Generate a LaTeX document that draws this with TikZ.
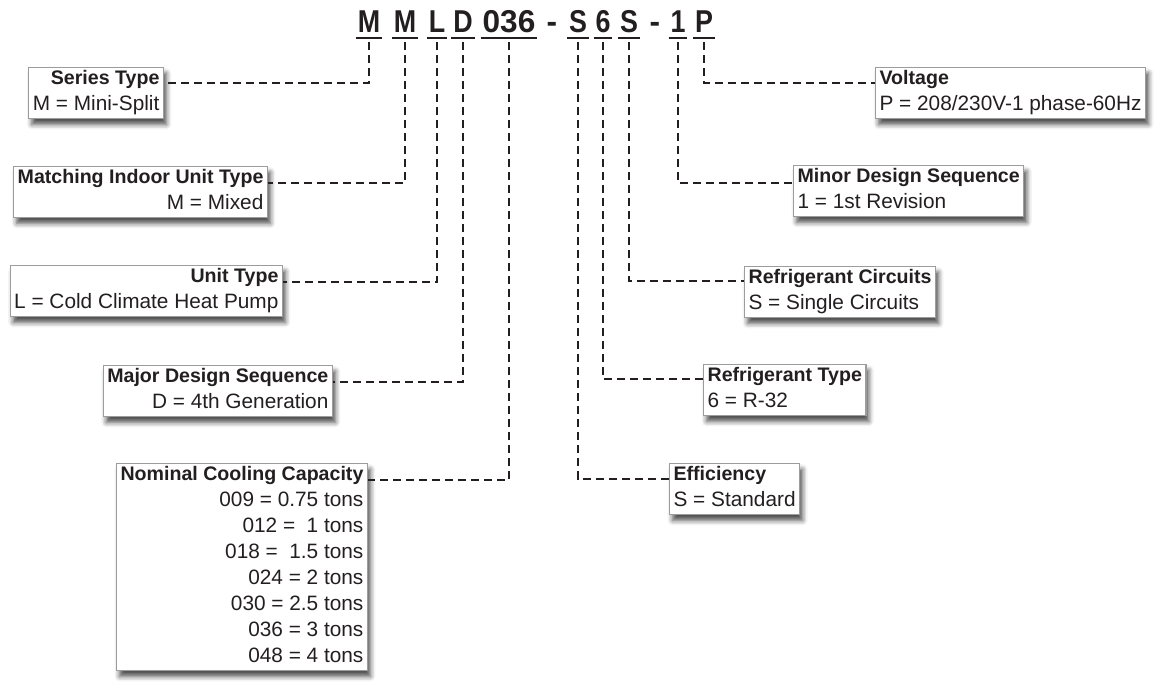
\documentclass[tikz,border=0pt]{standalone}
\usepackage{fontspec}
\usepackage{graphicx}
\setmainfont{Liberation Sans}
\usetikzlibrary{shadows.blur}

\definecolor{ink}{HTML}{231F20}
\definecolor{boxline}{HTML}{9C9C9C}
\newcommand{\hd}[1]{{\fontsize{9.8pt}{13pt}\selectfont\bfseries #1}}
\newcommand{\lnstrut}{\rule[-2.5pt]{0pt}{9pt}}
\newcommand{\cc}[1]{\scalebox{0.85}[1]{#1}}

\begin{document}
\begin{tikzpicture}[x=0.5pt,y=-0.5pt,
		codechar/.style={font=\fontsize{15.8pt}{16pt}\selectfont\bfseries,
			text=ink,inner xsep=0.8pt,inner ysep=3pt,text depth=0pt,anchor=base},
		uline/.style={draw=ink,line width=1pt},
		conn/.style={draw=ink,line width=1.15pt,dash pattern=on 4pt off 2.5pt},
		codebox/.style={draw=boxline,line width=0.6pt,fill=white,text=ink,
			inner xsep=2pt,inner ysep=1.5pt,
			font=\fontsize{10.4pt}{13pt}\selectfont,
			blur shadow={shadow xshift=1.5pt,shadow yshift=-2.8pt,
				shadow blur radius=2.5pt,shadow opacity=70}}]
	
	\useasboundingbox (0,0) rectangle (1157,681);
	
	% model number
	\node[codechar] (kM1) at (369,32) {\cc{M}};
	\node[codechar] (kM2) at (405,32) {\cc{M}};
	\node[codechar] (kL) at (437,32) {\cc{L}};
	\node[codechar] (kD) at (463,32) {\cc{D}};
	\node[codechar] (k036) at (509,32) {036};
	\node[codechar] (kd1) at (552,32) {-};
	\node[codechar] (kS1) at (578,32) {\cc{S}};
	\node[codechar] (k6) at (603,32) {\cc{6}};
	\node[codechar] (kS2) at (629,32) {\cc{S}};
	\node[codechar] (kd2) at (655,32) {-};
	\node[codechar] (k1) at (678,32) {\cc{1}};
	\node[codechar] (kP) at (704,32) {\cc{P}};
	\foreach \k in {kM1,kM2,kL,kD,k036,kS1,k6,kS2,k1,kP}
		\draw[uline] (\k.south west) -- (\k.south east);
	
	% left boxes
	\node[codebox,align=right,anchor=north east] (series) at (164,67)
		{\hd{Series Type}\lnstrut\\M = Mini-Split\lnstrut};
	\node[codebox,align=right,anchor=north east] (indoor) at (268,166)
		{\hd{Matching Indoor Unit Type}\lnstrut\\M = Mixed\lnstrut};
	\node[codebox,align=right,anchor=north east] (unit) at (283,265)
		{\hd{Unit Type}\lnstrut\\L = Cold Climate Heat Pump\lnstrut};
	\node[codebox,align=right,anchor=north east] (major) at (333,365)
		{\hd{Major Design Sequence}\lnstrut\\D = 4th Generation\lnstrut};
	\node[codebox,align=right,anchor=north east] (capacity) at (368,463)
		{\hd{Nominal Cooling Capacity}\lnstrut\\
		009 = 0.75 tons\\012 = \ 1 tons\\018 = \ 1.5 tons\\024 = 2 tons\\
		030 = 2.5 tons\\036 = 3 tons\\048 = 4 tons\lnstrut};
	
	% right boxes
	\node[codebox,align=left,anchor=north west] (voltage) at (875,67)
		{\hd{Voltage}\lnstrut\\P = 208/230V-1 phase-60Hz\lnstrut};
	\node[codebox,align=left,anchor=north west] (minor) at (793,165)
		{\hd{Minor Design Sequence}\lnstrut\\1 = 1st Revision\lnstrut};
	\node[codebox,align=left,anchor=north west] (circuits) at (744,266)
		{\hd{Refrigerant Circuits}\lnstrut\\S = Single Circuits\lnstrut};
	\node[codebox,align=left,anchor=north west] (reftype) at (703,364)
		{\hd{Refrigerant Type}\lnstrut\\6 = R-32\lnstrut};
	\node[codebox,align=left,anchor=north west] (effic) at (669,463)
		{\hd{Efficiency}\lnstrut\\S = Standard\lnstrut};
	
	% leaders
	\draw[conn] ([yshift=-2pt]kM1.south) |- ([yshift=-8pt]series.north east);
	\draw[conn] ([yshift=-2pt]kM2.south) |- ([yshift=-8.5pt]indoor.north east);
	\draw[conn] ([yshift=-2pt]kL.south) |- ([yshift=-8.5pt]unit.north east);
	\draw[conn] ([yshift=-2pt]kD.south) |- ([yshift=-8.5pt]major.north east);
	\draw[conn] ([yshift=-2pt]k036.south) |- ([yshift=-8.5pt]capacity.north east);
	\draw[conn] ([yshift=-2pt]kP.south) |- ([yshift=-8pt]voltage.north west);
	\draw[conn] ([yshift=-2pt]k1.south) |- ([yshift=-9pt]minor.north west);
	\draw[conn] ([yshift=-2pt]kS2.south) |- ([yshift=-7.5pt]circuits.north west);
	\draw[conn] ([yshift=-2pt]k6.south) |- ([yshift=-7.5pt]reftype.north west);
	\draw[conn] ([yshift=-2pt]kS1.south) |- ([yshift=-8pt]effic.north west);
\end{tikzpicture}
\end{document}
